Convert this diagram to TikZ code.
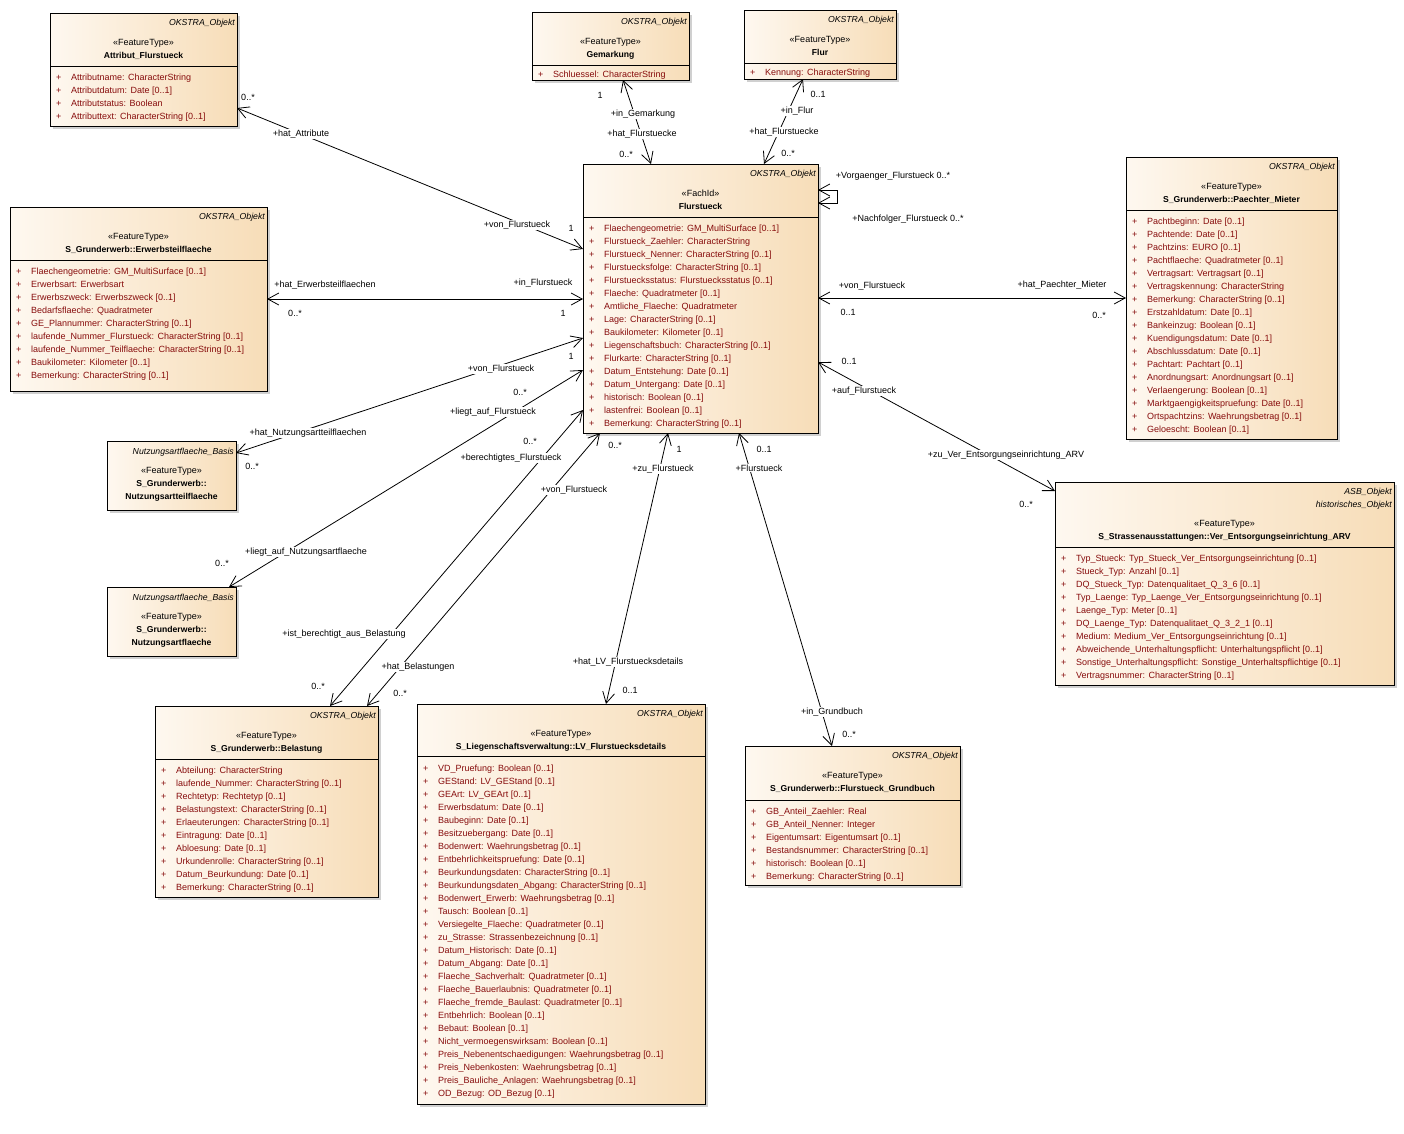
\documentclass[tikz,border=0pt]{standalone}
\usepackage{fontspec}
\setmainfont{Liberation Sans}
\usetikzlibrary{arrows.meta,shadows}
\definecolor{attrred}{RGB}{135,12,12}
\definecolor{boxleft}{RGB}{254,248,240}
\definecolor{boxright}{RGB}{247,221,184}
\newcommand{\pl}{\strut\makebox[15pt][l]{+}}
\begin{document}
\begin{tikzpicture}[x=1pt, y=-1pt,
    every node/.style={font=\fontsize{9}{13}\selectfont, inner sep=0pt},
    cls/.style={draw, line width=1pt, anchor=north west, outer sep=0pt,
      left color=boxleft, right color=boxright,
      drop shadow={shadow xshift=3pt, shadow yshift=-3pt, fill=black!30, opacity=0.6}},
    stereo/.style={anchor=base},
    parent/.style={anchor=base east, font=\fontsize{8.7}{13}\selectfont\itshape},
    cname/.style={anchor=base, font=\fontsize{8.6}{13}\selectfont\bfseries},
    attrs/.style={anchor=north west, align=left, text=attrred},
    role/.style={fill=white, inner sep=1pt},
    mult/.style={},
    assoc/.style={line width=0.8pt, {Straight Barb[length=11pt,width=12pt]}-{Straight Barb[length=11pt,width=12pt]}}
  ]
  \path[use as bounding box, fill=white] (0,0) rectangle (1404,1133);

  % classes
  \node[cls, minimum width=187, minimum height=113] (attr) at (50,13) {};
  \node[parent] (attr-p) at (235,25) {OKSTRA\_Objekt};
  \node[stereo] (attr-s) at (143.5,45) {«FeatureType»};
  \node[cname] (attr-n) at (143.5,58) {Attribut\_Flurstueck};
  \draw[line width=1pt] (attr.west |- 0,66) -- (attr.east |- 0,66);
  \node[attrs] (attr-a) at (56,71) {\pl Attributname: CharacterString\\
    \pl Attributdatum: Date [0..1]\\
    \pl Attributstatus: Boolean\\
    \pl Attributtext: CharacterString [0..1]};

  \node[cls, minimum width=257, minimum height=184] (ewt) at (10,207) {};
  \node[parent] (ewt-p) at (265,219) {OKSTRA\_Objekt};
  \node[stereo] (ewt-s) at (138.5,239) {«FeatureType»};
  \node[cname] (ewt-n) at (138.5,252) {S\_Grunderwerb::Erwerbsteilflaeche};
  \draw[line width=1pt] (ewt.west |- 0,260) -- (ewt.east |- 0,260);
  \node[attrs] (ewt-a) at (16,265) {\pl Flaechengeometrie: GM\_MultiSurface [0..1]\\
    \pl Erwerbsart: Erwerbsart\\
    \pl Erwerbszweck: Erwerbszweck [0..1]\\
    \pl Bedarfsflaeche: Quadratmeter\\
    \pl GE\_Plannummer: CharacterString [0..1]\\
    \pl laufende\_Nummer\_Flurstueck: CharacterString [0..1]\\
    \pl laufende\_Nummer\_Teilflaeche: CharacterString [0..1]\\
    \pl Baukilometer: Kilometer [0..1]\\
    \pl Bemerkung: CharacterString [0..1]};

  \node[cls, minimum width=157, minimum height=68] (gem) at (532,12) {};
  \node[parent] (gem-p) at (687,24) {OKSTRA\_Objekt};
  \node[stereo] (gem-s) at (610.5,44) {«FeatureType»};
  \node[cname] (gem-n) at (610.5,57) {Gemarkung};
  \draw[line width=1pt] (gem.west |- 0,65) -- (gem.east |- 0,65);
  \node[attrs] (gem-a) at (538,68) {\pl Schluessel: CharacterString};

  \node[cls, minimum width=152, minimum height=69] (flur) at (744,10) {};
  \node[parent] (flur-p) at (894,22) {OKSTRA\_Objekt};
  \node[stereo] (flur-s) at (820,42) {«FeatureType»};
  \node[cname] (flur-n) at (820,55) {Flur};
  \draw[line width=1pt] (flur.west |- 0,63) -- (flur.east |- 0,63);
  \node[attrs] (flur-a) at (750,66) {\pl Kennung: CharacterString};

  \node[cls, minimum width=235, minimum height=269] (flst) at (583,164) {};
  \node[parent] (flst-p) at (816,176) {OKSTRA\_Objekt};
  \node[stereo] (flst-s) at (700.5,196) {«FachId»};
  \node[cname] (flst-n) at (700.5,209) {Flurstueck};
  \draw[line width=1pt] (flst.west |- 0,217) -- (flst.east |- 0,217);
  \node[attrs] (flst-a) at (589,222) {\pl Flaechengeometrie: GM\_MultiSurface [0..1]\\
    \pl Flurstueck\_Zaehler: CharacterString\\
    \pl Flurstueck\_Nenner: CharacterString [0..1]\\
    \pl Flurstuecksfolge: CharacterString [0..1]\\
    \pl Flurstuecksstatus: Flurstuecksstatus [0..1]\\
    \pl Flaeche: Quadratmeter [0..1]\\
    \pl Amtliche\_Flaeche: Quadratmeter\\
    \pl Lage: CharacterString [0..1]\\
    \pl Baukilometer: Kilometer [0..1]\\
    \pl Liegenschaftsbuch: CharacterString [0..1]\\
    \pl Flurkarte: CharacterString [0..1]\\
    \pl Datum\_Entstehung: Date [0..1]\\
    \pl Datum\_Untergang: Date [0..1]\\
    \pl historisch: Boolean [0..1]\\
    \pl lastenfrei: Boolean [0..1]\\
    \pl Bemerkung: CharacterString [0..1]};

  \node[cls, minimum width=211, minimum height=282] (pm) at (1126,157) {};
  \node[parent] (pm-p) at (1335,169) {OKSTRA\_Objekt};
  \node[stereo] (pm-s) at (1231.5,189) {«FeatureType»};
  \node[cname] (pm-n) at (1231.5,202) {S\_Grunderwerb::Paechter\_Mieter};
  \draw[line width=1pt] (pm.west |- 0,210) -- (pm.east |- 0,210);
  \node[attrs] (pm-a) at (1132,215) {\pl Pachtbeginn: Date [0..1]\\
    \pl Pachtende: Date [0..1]\\
    \pl Pachtzins: EURO [0..1]\\
    \pl Pachtflaeche: Quadratmeter [0..1]\\
    \pl Vertragsart: Vertragsart [0..1]\\
    \pl Vertragskennung: CharacterString\\
    \pl Bemerkung: CharacterString [0..1]\\
    \pl Erstzahldatum: Date [0..1]\\
    \pl Bankeinzug: Boolean [0..1]\\
    \pl Kuendigungsdatum: Date [0..1]\\
    \pl Abschlussdatum: Date [0..1]\\
    \pl Pachtart: Pachtart [0..1]\\
    \pl Anordnungsart: Anordnungsart [0..1]\\
    \pl Verlaengerung: Boolean [0..1]\\
    \pl Marktgaengigkeitspruefung: Date [0..1]\\
    \pl Ortspachtzins: Waehrungsbetrag [0..1]\\
    \pl Geloescht: Boolean [0..1]};

  \node[cls, minimum width=339, minimum height=203] (ver) at (1055,482) {};
  \node[parent] (ver-p) at (1392,494) {ASB\_Objekt};
  \node[parent] (ver-h) at (1392,507) {historisches\_Objekt};
  \node[stereo] (ver-s) at (1224.5,526) {«FeatureType»};
  \node[cname] (ver-n) at (1224.5,539) {S\_Strassenausstattungen::Ver\_Entsorgungseinrichtung\_ARV};
  \draw[line width=1pt] (ver.west |- 0,547) -- (ver.east |- 0,547);
  \node[attrs] (ver-a) at (1061,552) {\pl Typ\_Stueck: Typ\_Stueck\_Ver\_Entsorgungseinrichtung [0..1]\\
    \pl Stueck\_Typ: Anzahl [0..1]\\
    \pl DQ\_Stueck\_Typ: Datenqualitaet\_Q\_3\_6 [0..1]\\
    \pl Typ\_Laenge: Typ\_Laenge\_Ver\_Entsorgungseinrichtung [0..1]\\
    \pl Laenge\_Typ: Meter [0..1]\\
    \pl DQ\_Laenge\_Typ: Datenqualitaet\_Q\_3\_2\_1 [0..1]\\
    \pl Medium: Medium\_Ver\_Entsorgungseinrichtung [0..1]\\
    \pl Abweichende\_Unterhaltungspflicht: Unterhaltungspflicht [0..1]\\
    \pl Sonstige\_Unterhaltungspflicht: Sonstige\_Unterhaltspflichtige [0..1]\\
    \pl Vertragsnummer: CharacterString [0..1]};

  \node[cls, minimum width=129, minimum height=69] (ntf) at (107,441) {};
  \node[parent] (ntf-p) at (234,454) {Nutzungsartflaeche\_Basis};
  \node[stereo] (ntf-s) at (171.5,473) {«FeatureType»};
  \node[cname] (ntf-n) at (171.5,486) {S\_Grunderwerb::};
  \node[cname] (ntf-m) at (171.5,499) {Nutzungsartteilflaeche};

  \node[cls, minimum width=129, minimum height=69] (nf) at (107,587) {};
  \node[parent] (nf-p) at (234,600) {Nutzungsartflaeche\_Basis};
  \node[stereo] (nf-s) at (171.5,619) {«FeatureType»};
  \node[cname] (nf-n) at (171.5,632) {S\_Grunderwerb::};
  \node[cname] (nf-m) at (171.5,645) {Nutzungsartflaeche};

  \node[cls, minimum width=223, minimum height=191] (bel) at (155,706) {};
  \node[parent] (bel-p) at (376,718) {OKSTRA\_Objekt};
  \node[stereo] (bel-s) at (266.5,738) {«FeatureType»};
  \node[cname] (bel-n) at (266.5,751) {S\_Grunderwerb::Belastung};
  \draw[line width=1pt] (bel.west |- 0,759) -- (bel.east |- 0,759);
  \node[attrs] (bel-a) at (161,764) {\pl Abteilung: CharacterString\\
    \pl laufende\_Nummer: CharacterString [0..1]\\
    \pl Rechtetyp: Rechtetyp [0..1]\\
    \pl Belastungstext: CharacterString [0..1]\\
    \pl Erlaeuterungen: CharacterString [0..1]\\
    \pl Eintragung: Date [0..1]\\
    \pl Abloesung: Date [0..1]\\
    \pl Urkundenrolle: CharacterString [0..1]\\
    \pl Datum\_Beurkundung: Date [0..1]\\
    \pl Bemerkung: CharacterString [0..1]};

  \node[cls, minimum width=288, minimum height=400] (lv) at (417,704) {};
  \node[parent] (lv-p) at (703,716) {OKSTRA\_Objekt};
  \node[stereo] (lv-s) at (561,736) {«FeatureType»};
  \node[cname] (lv-n) at (561,749) {S\_Liegenschaftsverwaltung::LV\_Flurstuecksdetails};
  \draw[line width=1pt] (lv.west |- 0,756) -- (lv.east |- 0,756);
  \node[attrs] (lv-a) at (423,762) {\pl VD\_Pruefung: Boolean [0..1]\\
    \pl GEStand: LV\_GEStand [0..1]\\
    \pl GEArt: LV\_GEArt [0..1]\\
    \pl Erwerbsdatum: Date [0..1]\\
    \pl Baubeginn: Date [0..1]\\
    \pl Besitzuebergang: Date [0..1]\\
    \pl Bodenwert: Waehrungsbetrag [0..1]\\
    \pl Entbehrlichkeitspruefung: Date [0..1]\\
    \pl Beurkundungsdaten: CharacterString [0..1]\\
    \pl Beurkundungsdaten\_Abgang: CharacterString [0..1]\\
    \pl Bodenwert\_Erwerb: Waehrungsbetrag [0..1]\\
    \pl Tausch: Boolean [0..1]\\
    \pl Versiegelte\_Flaeche: Quadratmeter [0..1]\\
    \pl zu\_Strasse: Strassenbezeichnung [0..1]\\
    \pl Datum\_Historisch: Date [0..1]\\
    \pl Datum\_Abgang: Date [0..1]\\
    \pl Flaeche\_Sachverhalt: Quadratmeter [0..1]\\
    \pl Flaeche\_Bauerlaubnis: Quadratmeter [0..1]\\
    \pl Flaeche\_fremde\_Baulast: Quadratmeter [0..1]\\
    \pl Entbehrlich: Boolean [0..1]\\
    \pl Bebaut: Boolean [0..1]\\
    \pl Nicht\_vermoegenswirksam: Boolean [0..1]\\
    \pl Preis\_Nebenentschaedigungen: Waehrungsbetrag [0..1]\\
    \pl Preis\_Nebenkosten: Waehrungsbetrag [0..1]\\
    \pl Preis\_Bauliche\_Anlagen: Waehrungsbetrag [0..1]\\
    \pl OD\_Bezug: OD\_Bezug [0..1]};

  \node[cls, minimum width=215, minimum height=139] (gb) at (745,746) {};
  \node[parent] (gb-p) at (958,758) {OKSTRA\_Objekt};
  \node[stereo] (gb-s) at (852.5,778) {«FeatureType»};
  \node[cname] (gb-n) at (852.5,791) {S\_Grunderwerb::Flurstueck\_Grundbuch};
  \draw[line width=1pt] (gb.west |- 0,800) -- (gb.east |- 0,800);
  \node[attrs] (gb-a) at (751,805) {\pl GB\_Anteil\_Zaehler: Real\\
    \pl GB\_Anteil\_Nenner: Integer\\
    \pl Eigentumsart: Eigentumsart [0..1]\\
    \pl Bestandsnummer: CharacterString [0..1]\\
    \pl historisch: Boolean [0..1]\\
    \pl Bemerkung: CharacterString [0..1]};

  % associations
  \draw[assoc] (attr.east |- 0,108) -- (flst.west |- 0,249)
    node[mult] (m-a1) at (248,97) {0..*}
    node[role] (r-a1) at (301,134) {+hat\_Attribute}
    node[role] (r-a2) at (517,225) {+von\_Flurstueck}
    node[mult] (m-a2) at (571,228) {1};
  \draw[assoc] (ewt.east |- 0,299) -- (flst.west |- 0,299)
    node[mult] (r-b1) at (325,285) {+hat\_Erwerbsteilflaechen}
    node[mult] (m-b1) at (295,313) {0..*}
    node[mult] (r-b2) at (543,283) {+in\_Flurstueck}
    node[mult] (m-b2) at (563,313) {1};
  \draw[assoc] (gem.south -| 623,0) -- (flst.north -| 651,0)
    node[mult] (m-c1) at (600,95) {1}
    node[role] (r-c1) at (643,114) {+in\_Gemarkung}
    node[role] (r-c2) at (642,134) {+hat\_Flurstuecke}
    node[mult] (m-c2) at (626,154) {0..*};
  \draw[assoc] (flur.south -| 803,0) -- (flst.north -| 764,0)
    node[mult] (m-d1) at (818,94) {0..1}
    node[role] (r-d1) at (797,111) {+in\_Flur}
    node[role] (r-d2) at (784,132) {+hat\_Flurstuecke}
    node[mult] (m-d2) at (788,153) {0..*};
  \draw[assoc] (flst.east |- 0,298) -- (pm.west |- 0,298)
    node[mult] (r-e1) at (872,286) {+von\_Flurstueck}
    node[mult] (m-e1) at (848,312) {0..1}
    node[mult] (r-e2) at (1062,285) {+hat\_Paechter\_Mieter}
    node[mult] (m-e2) at (1099,315) {0..*};
  \draw[assoc] (flst.east |- 0,362) -- (ver.west |- 0,491)
    node[mult] (m-f1) at (849,361) {0..1}
    node[role] (r-f1) at (864,391) {+auf\_Flurstueck}
    node[role] (r-f2) at (1006,455) {+zu\_Ver\_Entsorgungseinrichtung\_ARV}
    node[mult] (m-f2) at (1026,504) {0..*};
  \draw[assoc] (flst.west |- 0,338) -- (ntf.east |- 0,453)
    node[mult] (m-g1) at (571,356) {1}
    node[role] (r-g1) at (501,369) {+von\_Flurstueck}
    node[role] (r-g2) at (308,433) {+hat\_Nutzungsartteilflaechen}
    node[mult] (m-g2) at (252,466) {0..*};
  \draw[assoc] (flst.west |- 0,370) -- (nf.north -| 229,0)
    node[mult] (m-h1) at (520,392) {0..*}
    node[role] (r-h1) at (493,412) {+liegt\_auf\_Flurstueck}
    node[role] (r-h2) at (306,552) {+liegt\_auf\_Nutzungsartflaeche}
    node[mult] (m-h2) at (222,563) {0..*};
  \draw[assoc] (flst.west |- 0,410) -- (bel.north -| 330,0)
    node[mult] (m-i1) at (530,441) {0..*}
    node[role] (r-i1) at (511,458) {+berechtigtes\_Flurstueck}
    node[role] (r-i2) at (344,634) {+ist\_berechtigt\_aus\_Belastung}
    node[mult] (m-i2) at (318,686) {0..*};
  \draw[assoc] (flst.south -| 600,0) -- (bel.north -| 367,0)
    node[mult] (m-j1) at (615,445) {0..*}
    node[role] (r-j1) at (574,490) {+von\_Flurstueck}
    node[role] (r-j2) at (418,667) {+hat\_Belastungen}
    node[mult] (m-j2) at (400,693) {0..*};
  \draw[assoc] (flst.south -| 668,0) -- (lv.north -| 606,0)
    node[mult] (m-k1) at (679,449) {1}
    node[role] (r-k1) at (663,469) {+zu\_Flurstueck}
    node[role] (r-k2) at (628,662) {+hat\_LV\_Flurstuecksdetails}
    node[mult] (m-k2) at (630,690) {0..1};
  \draw[assoc] (flst.south -| 739,0) -- (gb.north -| 832,0)
    node[mult] (m-l1) at (764,449) {0..1}
    node[role] (r-l1) at (759,468) {+Flurstueck}
    node[role] (r-l2) at (832,712) {+in\_Grundbuch}
    node[mult] (m-l2) at (849,734) {0..*};
  \draw[assoc] (flst.east |- 0,190) -- ++(19,0) |- (flst.east |- 0,203)
    node[mult] (r-m1) at (893,176) {+Vorgaenger\_Flurstueck 0..*}
    node[mult] (r-m2) at (908,219) {+Nachfolger\_Flurstueck 0..*};
\end{tikzpicture}
\end{document}
